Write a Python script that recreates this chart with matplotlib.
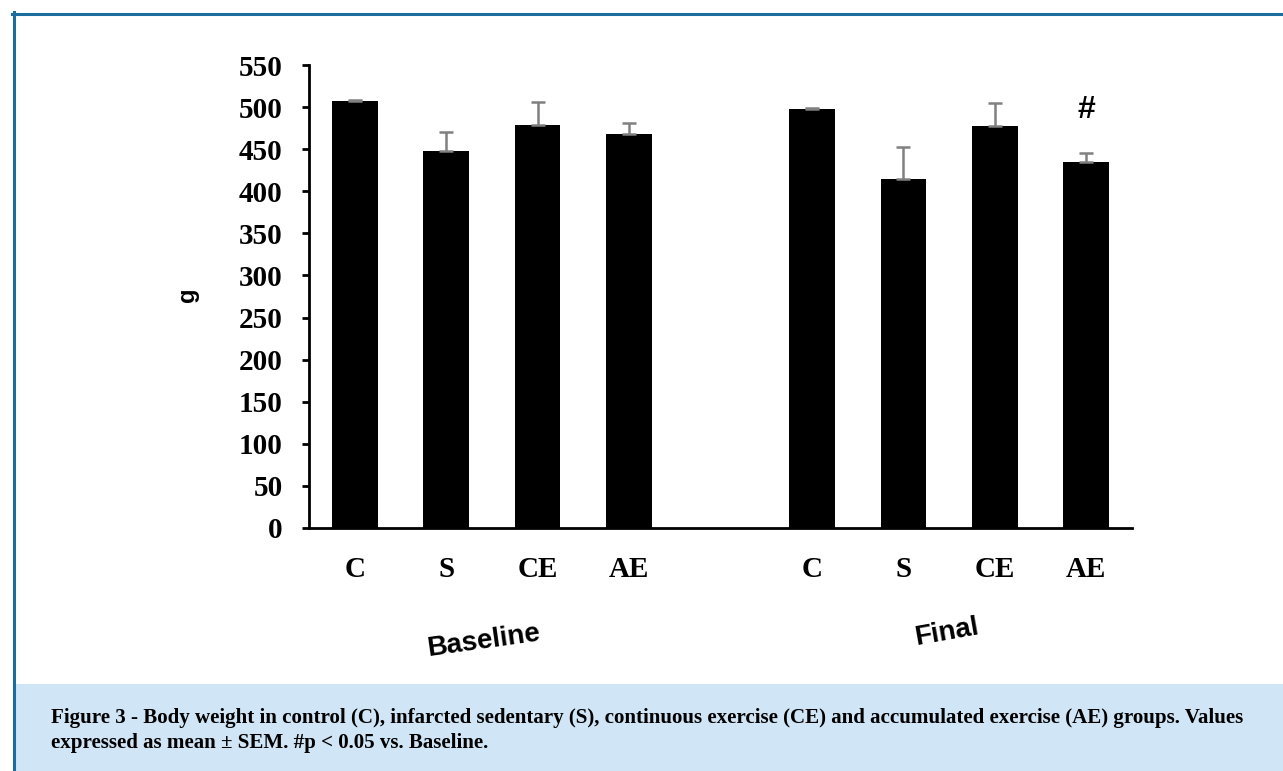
import matplotlib
matplotlib.use("Agg")
import matplotlib.pyplot as plt
from matplotlib.patches import Rectangle
from matplotlib.lines import Line2D

# data
groups = ["C", "S", "CE", "AE"]
baseline_mean = [507, 448, 479, 468]
baseline_sem = [2, 22, 27, 13]
final_mean = [498, 414, 477, 435]
final_sem = [1, 39, 28, 11]
x_baseline = [0, 1, 2, 3]
x_final = [5, 6, 7, 8]
period_labels = ["Baseline", "Final"]
caption_lines = [
    "Figure 3 - Body weight in control (C), infarcted sedentary (S), continuous exercise (CE) "
    "and accumulated exercise (AE) groups. Values",
    "expressed as mean \u00b1 SEM. #p < 0.05 vs. Baseline.",
]

W, H = 1283, 771
fig = plt.figure(figsize=(W / 100, H / 100), dpi=100)


def fx(px):
    return px / W


def fy(py):
    return 1 - py / H


# frame and caption panel
fig.patches.append(Rectangle((fx(15), 0), 1 - fx(15), fy(684), transform=fig.transFigure,
                             facecolor="#d0e5f5", edgecolor="none", zorder=0))
fig.lines.append(Line2D([fx(12), 1], [fy(13.5), fy(13.5)], transform=fig.transFigure,
                        color="#1c6d9e", linewidth=2.2))
fig.lines.append(Line2D([fx(13.5), fx(13.5)], [fy(12), 0], transform=fig.transFigure,
                        color="#1c6d9e", linewidth=2.2))

ax = fig.add_axes([fx(309), fy(528), fx(1132) - fx(309), fy(65) - fy(528)])

err_kw = dict(ecolor="#808080", elinewidth=1.8, capsize=4.7, capthick=1.8)
ax.bar(x_baseline, baseline_mean, width=0.5, color="black",
       yerr=[[0] * 4, baseline_sem], error_kw=err_kw)
ax.bar(x_final, final_mean, width=0.5, color="black",
       yerr=[[0] * 4, final_sem], error_kw=err_kw)

ax.set_xlim(-0.5, 8.5)
ax.set_ylim(0, 550)
ax.set_yticks(range(0, 551, 50))
ax.set_xticks(x_baseline + x_final)
ax.set_xticklabels(groups + groups)

for side in ["top", "right"]:
    ax.spines[side].set_visible(False)
for side in ["left", "bottom"]:
    ax.spines[side].set_linewidth(2)
ax.tick_params(axis="y", direction="out", length=5, width=2, pad=14)
ax.tick_params(axis="x", length=0, pad=20)
for lab in ax.get_xticklabels() + ax.get_yticklabels():
    lab.set_fontfamily("Liberation Serif")
    lab.set_fontweight("bold")
    lab.set_fontsize(21)

# significance mark
ax.text(8, 496, "#", ha="center", va="center", fontsize=23, fontweight="bold",
        fontfamily="Liberation Sans")

fig.text(fx(188), fy(295), "g", rotation=90, ha="center", va="center",
         fontsize=17, fontweight="bold", fontfamily="Liberation Sans")
fig.text(fx(484), fy(641), period_labels[0], rotation=8, ha="center", va="center",
         fontsize=20, fontweight="bold", fontfamily="Liberation Sans")
fig.text(fx(947), fy(632), period_labels[1], rotation=10, ha="center", va="center",
         fontsize=20, fontweight="bold", fontfamily="Liberation Sans")

# caption, sized to span the same width as the reference
cap1 = fig.text(fx(51), fy(723), caption_lines[0], ha="left", va="baseline",
                fontsize=13, fontweight="bold", fontfamily="Liberation Serif")
cap2 = fig.text(fx(51), fy(748), caption_lines[1], ha="left", va="baseline",
                fontsize=13, fontweight="bold", fontfamily="Liberation Serif")
renderer = fig.canvas.get_renderer()
width_px = cap1.get_window_extent(renderer).width
size = 13 * (1245 - 51) / width_px
cap1.set_fontsize(size)
cap2.set_fontsize(size)

fig.savefig("out.png", dpi=100)
